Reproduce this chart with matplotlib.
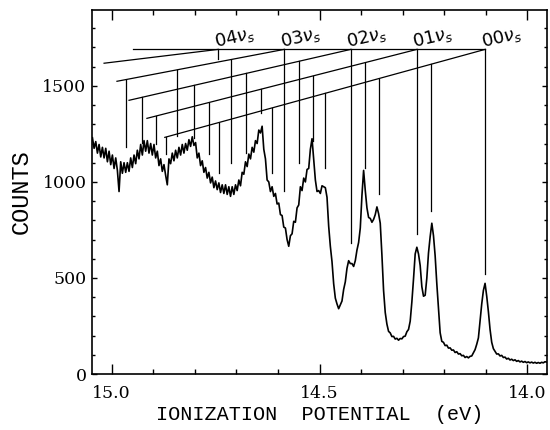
import numpy as np
import matplotlib
matplotlib.use('Agg')
import matplotlib.pyplot as plt
from matplotlib.ticker import MultipleLocator, FormatStrFormatter

# spectrum, one value per 4 meV channel, starting at 15.046 eV and going down
e_start = 15.046
e_step = 0.004
counts = [
    1230, 1175, 1210, 1150, 1195, 1130, 1180, 1125, 1175, 1105,
    1160, 1090, 1140, 1070, 1125, 1060, 950, 1105, 1045, 1100,
    1050, 1100, 1055, 1125, 1075, 1140, 1095, 1165, 1120, 1195,
    1140, 1215, 1160, 1215, 1150, 1200, 1140, 1195, 1125, 1160,
    1085, 1120, 1055, 1090, 1035, 985, 1120, 1095, 1150, 1110,
    1165, 1125, 1180, 1140, 1195, 1150, 1200, 1165, 1220, 1185,
    1235, 1190, 1205, 1125, 1150, 1085, 1110, 1050, 1075, 1020,
    1050, 995, 1025, 970, 1005, 960, 995, 945, 985, 940,
    985, 935, 975, 925, 975, 935, 985, 955, 1010, 980,
    1050, 1040, 1105, 1080, 1145, 1120, 1180, 1155, 1215, 1200,
    1270, 1255, 1290, 1170, 1120, 1010, 1000, 950, 975, 925,
    940, 885, 890, 830, 825, 765, 760, 700, 665, 720,
    730, 795, 790, 865, 880, 975, 955, 1020, 1000, 1065,
    1070, 1170, 1225, 1115, 1010, 950, 955, 940, 980, 975,
    970, 920, 770, 665, 585, 470, 395, 365, 340, 360,
    380, 440, 480, 550, 590, 575, 575, 560, 590, 645,
    685, 760, 930, 1060, 955, 865, 815, 810, 790, 805,
    830, 870, 835, 785, 620, 435, 320, 260, 222, 214,
    195, 196, 182, 186, 176, 185, 183, 195, 197, 220,
    232, 275, 375, 495, 625, 660, 625, 565, 455, 405,
    410, 500, 630, 715, 785, 720, 615, 470, 340, 215,
    170, 165, 148, 150, 135, 136, 124, 125, 112, 116,
    104, 106, 95, 97, 86, 91, 84, 92, 94, 110,
    127, 155, 188, 275, 365, 435, 472, 405, 325, 232,
    165, 132, 118, 104, 105, 94, 97, 86, 88, 78,
    82, 73, 77, 70, 74, 66, 70, 63, 67, 61,
    65, 59, 63, 58, 62, 57, 61, 56, 60, 56,
    61, 58, 64, 62,
]
energy = e_start - e_step * np.arange(len(counts))

# nu_s progression (top bar) and the fans hanging from each level
vs_names = ['00', '01', '02', '03', '04']
vs_energy = [14.102, 14.266, 14.425, 14.585, 14.744]
bar_level = 1690
bar_left = 14.949
fan_end_energy = [14.872, 14.915, 14.958, 14.987, 15.018]
fan_end_counts = [1232, 1331, 1425, 1524, 1618]
fan_ticks = [
    [14.102, 14.231, 14.358, 14.486, 14.614, 14.742, 14.869],
    [14.266, 14.391, 14.516, 14.641, 14.766, 14.892],
    [14.425, 14.550, 14.676, 14.802, 14.927],
    [14.585, 14.714, 14.842, 14.966],
    [14.744],
]
fan_tick_bottoms = [
    [520, 850, 935, 1070, 1045, 1045, 1145],
    [730, 1070, 1215, 1360, 1145, 1200],
    [680, 1100, 1150, 1230, 1205],
    [955, 1100, 1240, 1180],
    [1640],
]

fig = plt.figure(figsize=(5.5, 4.3), dpi=100)
ax = fig.add_axes([0.1673, 0.1302, 0.8273, 0.8465])

ax.plot(energy, counts, color='black', lw=1.2)

# top bar
ax.plot([bar_left, vs_energy[0]], [bar_level, bar_level], color='black', lw=0.9)
for k in range(len(vs_names)):
    xp = [vs_energy[k], fan_end_energy[k]]
    fp = [bar_level, fan_end_counts[k]]
    ax.plot(xp, fp, color='black', lw=0.9)
    for j, (e, b) in enumerate(zip(fan_ticks[k], fan_tick_bottoms[k])):
        top = bar_level if j == 0 else np.interp(e, xp, fp)
        ax.plot([e, e], [top, b], color='black', lw=0.9)
    ax.text(vs_energy[k] + 0.006, 1703, vs_names[k] + r'$\nu_s$', rotation=13,
            rotation_mode='anchor', ha='left', va='baseline', fontsize=13)

ax.set_xlim(15.047, 13.953)
ax.set_ylim(0, 1895)
ax.xaxis.set_major_locator(MultipleLocator(0.5))
ax.xaxis.set_minor_locator(MultipleLocator(0.1))
ax.xaxis.set_major_formatter(FormatStrFormatter('%.1f'))
ax.yaxis.set_major_locator(MultipleLocator(500))
ax.yaxis.set_minor_locator(MultipleLocator(100))

ax.tick_params(axis='x', which='major', direction='in', length=7, width=1,
               top=True, pad=8)
ax.tick_params(axis='x', which='minor', direction='in', length=3.6, width=1, top=True)
ax.tick_params(axis='y', which='major', direction='in', length=3.6, width=1,
               right=True, pad=4)
ax.tick_params(axis='y', which='minor', direction='in', length=2.2, width=1, right=True)
for lab in ax.get_xticklabels() + ax.get_yticklabels():
    lab.set_family('DejaVu Serif')
    lab.set_fontsize(12.5)
for s in ax.spines.values():
    s.set_linewidth(1.2)

ax.set_xlabel('IONIZATION  POTENTIAL  (eV)', family='Liberation Mono',
              fontsize=14.5, labelpad=2)
ax.set_ylabel('COUNTS', family='Liberation Mono', fontsize=17, labelpad=7)

fig.savefig('out.png', dpi=100)
